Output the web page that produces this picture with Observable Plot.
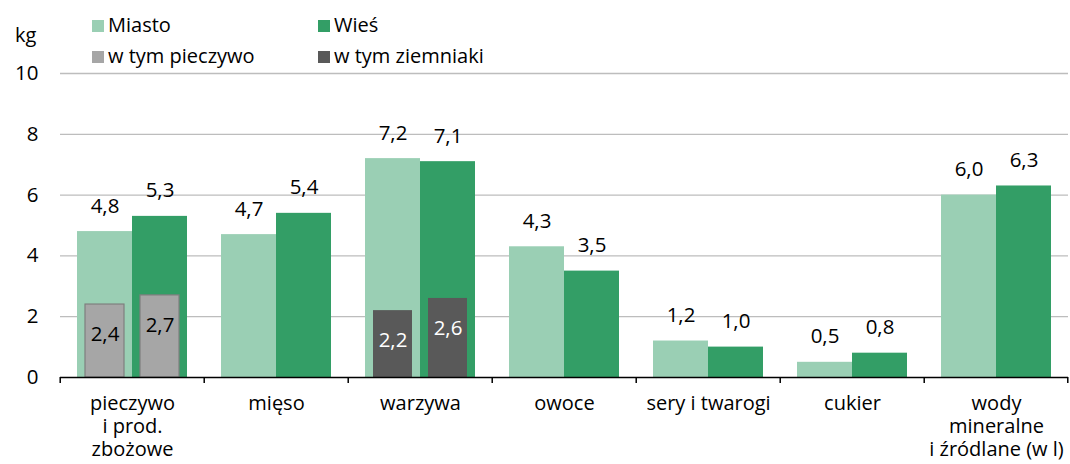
<!DOCTYPE html>
<html><head><meta charset="utf-8">
<script src="https://cdn.jsdelivr.net/npm/d3@7"></script>
<script src="https://cdn.jsdelivr.net/npm/@observablehq/plot@0.6"></script>
<style>
body{margin:0;background:#fff;font-family:"Open Sans",sans-serif;}
#wrap{position:relative;width:1070px;height:464px;}
#wrap svg{position:absolute;left:0;top:0;}
.lg{position:absolute;font-size:20px;line-height:20px;color:#000;white-space:nowrap;}
.sw{display:inline-block;width:12px;height:12px;margin-right:4px;vertical-align:0px;}
</style></head><body>
<div id="wrap"></div>
<script>
const categories = ["pieczywo i prod. zbożowe","mięso","warzywa","owoce","sery i twarogi","cukier","wody mineralne i źródlane (w l)"];
const categoryLabels = ["pieczywo\ni prod.\nzbożowe","mięso","warzywa","owoce","sery i twarogi","cukier","wody\nmineralne\ni źródlane (w l)"];
const series = ["Miasto","Wieś"];
const miasto = [4.8,4.7,7.2,4.3,1.2,0.5,6.0];
const wies = [5.3,5.4,7.1,3.5,1.0,0.8,6.3];
const pieczywo = [2.4,2.7];   // within "pieczywo i prod. zbożowe": Miasto, Wieś
const ziemniaki = [2.2,2.6];  // within "warzywa": Miasto, Wieś
const yTicks = [0,2,4,6,8,10];

const colors = {Miasto:"#9acfb4", "Wieś":"#339e66", pieczywo:"#a6a6a6", ziemniaki:"#595959"};
const fmt = v => v.toFixed(1).replace(".", ",");

const main = [];
categories.forEach((c,i)=>{
  main.push({cat:c, series:"Miasto", value:miasto[i]});
  main.push({cat:c, series:"Wieś", value:wies[i]});
});
const sub = [];
series.forEach((s,j)=>{
  sub.push({cat:categories[0], series:s, value:pieczywo[j], kind:"pieczywo"});
  sub.push({cat:categories[2], series:s, value:ziemniaki[j], kind:"ziemniaki"});
});

const W = 1070, ML = 58, MR = 0;
const band = (W - ML - MR) / categories.length;
const font = "'Open Sans', sans-serif";

const chart = Plot.plot({
  width: W, height: 464,
  marginLeft: ML, marginRight: MR, marginTop: 73, marginBottom: 87,
  style: {fontFamily: font, fontSize: "20px", color: "#000", background: "transparent", overflow: "visible"},
  fx: {domain: categories, padding: 0, label: null},
  x: {domain: series, paddingInner: 0, paddingOuter: 0.3, axis: null},
  y: {domain: [0,10], axis: null},
  marks: [
    Plot.gridY(yTicks.slice(1), {stroke: "#bdbdbd", strokeOpacity: 1, strokeWidth: 1.3}),
    Plot.barY(main, {fx:"cat", x:"series", y:"value", fill: d => colors[d.series]}),
    Plot.barY(sub, {fx:"cat", x:"series", y:"value", fill: d => colors[d.kind],
      stroke: d => d.kind === "pieczywo" ? "#7f7f7f" : "none", strokeWidth: 1.2, insetLeft: 8, insetRight: 8}),
    Plot.text(main, {fx:"cat", x:"series", y:"value", text: d => fmt(d.value), lineAnchor:"bottom", dy:-19, fontSize:20.5, fill:"#000"}),
    Plot.text(sub, {fx:"cat", x:"series", y:"value", text: d => fmt(d.value), lineAnchor:"middle", dy:30, fontSize:20.5,
      fill: d => d.kind === "ziemniaki" ? "#fff" : "#000"}),
    Plot.ruleY([0], {stroke:"#000", strokeWidth:1.5}),
    Plot.axisY(yTicks, {tickSize:0, tickPadding:22, fontSize:20.5, fill:"#000", label:null}),
    Plot.axisFx({anchor:"bottom", tickSize:0, tickPadding:16, fontSize:20, lineHeight:1.15, label:null,
      tickFormat: c => categoryLabels[categories.indexOf(c)], fill:"#000"}),
    Plot.axisFx({anchor:"bottom", tickSize:6, tickFormat: () => "", label:null, dx: -band/2, stroke:"#000", strokeWidth:1.5}),
    Plot.axisFx({anchor:"bottom", ticks:[categories[categories.length-1]], tickSize:6, tickFormat: () => "", label:null, dx: band/2 - 1, stroke:"#000", strokeWidth:1.5})
  ]
});

const wrap = document.getElementById("wrap");
wrap.appendChild(chart);

const legend = [
  {label:"Miasto", color:colors.Miasto, x:92, y:15},
  {label:"Wieś", color:colors["Wieś"], x:318, y:15},
  {label:"w tym pieczywo", color:colors.pieczywo, x:92, y:46},
  {label:"w tym ziemniaki", color:colors.ziemniaki, x:318, y:46}
];
legend.forEach(l=>{
  const d = document.createElement("div");
  d.className = "lg";
  d.style.left = l.x + "px"; d.style.top = l.y + "px";
  d.innerHTML = `<span class="sw" style="background:${l.color}"></span>${l.label}`;
  wrap.appendChild(d);
});
const kg = document.createElement("div");
kg.className = "lg"; kg.style.left = "15px"; kg.style.top = "25px"; kg.textContent = "kg";
wrap.appendChild(kg);
</script>
</body></html>
